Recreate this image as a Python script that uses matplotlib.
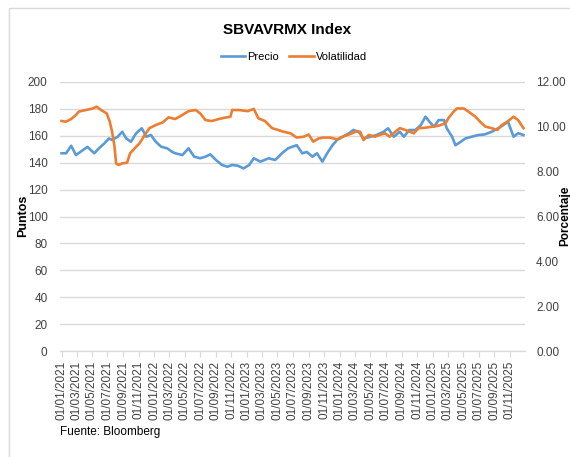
import matplotlib
matplotlib.use("Agg")
import matplotlib.pyplot as plt
import matplotlib.dates as mdates
import pandas as pd
from matplotlib.patches import Rectangle

plt.rcParams['font.family'] = ['Liberation Sans Narrow', 'Liberation Sans', 'DejaVu Sans']

title = "SBVAVRMX Index"
series_names = ["Precio", "Volatilidad"]
ylabel_left = "Puntos"
ylabel_right = "Porcentaje"
source = "Fuente: Bloomberg"

precio_dates = [
    "2021-01-01", "2021-01-19", "2021-02-08", "2021-02-27", "2021-03-16", "2021-04-13",
    "2021-05-10", "2021-05-28", "2021-06-19", "2021-07-07", "2021-07-19", "2021-08-10",
    "2021-08-28", "2021-09-13", "2021-10-01", "2021-10-22", "2021-11-13", "2021-12-01",
    "2021-12-19", "2022-01-07", "2022-01-28", "2022-02-21", "2022-03-13", "2022-03-25",
    "2022-04-22", "2022-05-16", "2022-06-07", "2022-07-01", "2022-07-22", "2022-08-10",
    "2022-09-01", "2022-09-25", "2022-10-16", "2022-11-04", "2022-11-25", "2022-12-19",
    "2023-01-10", "2023-01-28", "2023-02-23", "2023-03-28", "2023-04-22", "2023-05-19",
    "2023-06-12", "2023-07-16", "2023-08-07", "2023-08-25", "2023-09-16", "2023-10-04",
    "2023-10-25", "2023-11-13", "2023-12-04", "2023-12-22", "2024-01-13", "2024-02-07",
    "2024-02-24", "2024-03-16", "2024-04-04", "2024-05-01", "2024-05-25", "2024-06-22",
    "2024-07-10", "2024-08-01", "2024-08-25", "2024-09-10", "2024-10-01", "2024-10-25",
    "2024-11-16", "2024-12-04", "2024-12-25", "2025-01-07", "2025-01-25", "2025-02-15",
    "2025-02-26", "2025-03-19", "2025-04-01", "2025-04-13", "2025-05-10", "2025-06-04",
    "2025-07-01", "2025-07-25", "2025-08-22", "2025-09-16", "2025-10-07", "2025-10-25",
    "2025-11-16", "2025-12-04", "2025-12-25",
]
precio = [
    147.0, 147.0, 152.6, 145.7, 148.0, 151.8,
    147.0, 150.7, 154.4, 158.0, 156.9, 159.3,
    163.0, 158.0, 155.6, 161.9, 165.6, 159.3,
    160.6, 155.6, 151.9, 150.7, 148.0, 147.0,
    145.7, 150.7, 144.5, 143.3, 144.5, 146.2,
    142.0, 138.3, 137.0, 138.3, 137.8, 135.8,
    138.3, 143.3, 140.8, 143.3, 142.0, 147.0,
    150.7, 153.0, 147.0, 148.0, 144.5, 147.0,
    140.8, 147.0, 153.0, 156.9, 159.3, 161.9,
    164.3, 163.0, 158.0, 159.3, 160.6, 163.0,
    165.6, 159.3, 163.0, 159.3, 164.3, 164.3,
    168.0, 174.2, 169.3, 166.8, 171.7, 171.7,
    165.6, 159.3, 153.0, 154.4, 158.0, 159.3,
    160.6, 161.0, 163.0, 165.6, 168.0, 170.5,
    159.3, 161.9, 160.6,
]

vol_dates = [
    "2021-01-01", "2021-01-19", "2021-02-08", "2021-02-27", "2021-03-10", "2021-04-07",
    "2021-05-04", "2021-05-19", "2021-06-07", "2021-06-28", "2021-07-10", "2021-07-19",
    "2021-07-28", "2021-08-04", "2021-08-13", "2021-08-28", "2021-09-16", "2021-09-28",
    "2021-10-16", "2021-11-04", "2021-11-25", "2021-12-13", "2022-01-07", "2022-02-04",
    "2022-02-26", "2022-03-25", "2022-04-22", "2022-05-16", "2022-06-13", "2022-07-01",
    "2022-07-22", "2022-08-16", "2022-09-13", "2022-10-07", "2022-10-28", "2022-11-04",
    "2022-12-01", "2023-01-04", "2023-01-28", "2023-02-15", "2023-03-13", "2023-04-10",
    "2023-05-04", "2023-05-25", "2023-06-22", "2023-07-16", "2023-08-13", "2023-09-01",
    "2023-09-19", "2023-10-10", "2023-10-28", "2023-11-25", "2023-12-22", "2024-01-13",
    "2024-02-07", "2024-03-04", "2024-03-22", "2024-04-04", "2024-04-25", "2024-05-19",
    "2024-06-07", "2024-06-28", "2024-07-16", "2024-08-07", "2024-08-25", "2024-09-16",
    "2024-10-19", "2024-11-07", "2024-12-04", "2025-01-01", "2025-01-25", "2025-02-21",
    "2025-03-04", "2025-03-25", "2025-04-07", "2025-05-04", "2025-05-22", "2025-06-19",
    "2025-07-07", "2025-07-28", "2025-08-22", "2025-09-13", "2025-10-01", "2025-10-22",
    "2025-11-16", "2025-12-04", "2025-12-25",
]
volatilidad = [
    10.26, 10.23, 10.35, 10.53, 10.68, 10.75,
    10.82, 10.90, 10.74, 10.60, 10.23, 9.78,
    9.18, 8.37, 8.30, 8.37, 8.40, 8.82,
    9.04, 9.26, 9.64, 9.94, 10.08, 10.20,
    10.42, 10.35, 10.53, 10.70, 10.75, 10.60,
    10.30, 10.26, 10.35, 10.41, 10.45, 10.75,
    10.75, 10.70, 10.80, 10.38, 10.26, 9.94,
    9.86, 9.78, 9.71, 9.52, 9.56, 9.66,
    9.34, 9.48, 9.52, 9.52, 9.44, 9.56,
    9.66, 9.78, 9.78, 9.41, 9.64, 9.56,
    9.64, 9.71, 9.56, 9.78, 9.94, 9.86,
    9.71, 9.94, 9.96, 10.01, 10.05, 10.16,
    10.38, 10.68, 10.82, 10.82, 10.68, 10.45,
    10.23, 10.01, 9.94, 9.86, 10.08, 10.23,
    10.45, 10.30, 9.94,
]

left_ticks = [0, 20, 40, 60, 80, 100, 120, 140, 160, 180, 200]
right_ticks = [0, 2, 4, 6, 8, 10, 12]
xtick_dates = pd.date_range("2021-01-01", "2025-11-01", freq="2MS")

W, H = 570, 457
fig = plt.figure(figsize=(W / 100, H / 100), dpi=100)

# outer chart border
fig.patches.append(Rectangle((9 / W, -0.05), 1.2, (H - 8) / H + 0.05, transform=fig.transFigure,
                             fill=False, edgecolor="#D9D9D9", linewidth=1.0))

ax = fig.add_axes([60 / W, (H - 351) / H, (525 - 60) / W, (351 - 82) / H])
ax2 = ax.twinx()

c_blue = "#5B9BD5"
c_orange = "#ED7D31"

l1, = ax.plot(pd.to_datetime(precio_dates), precio, color=c_blue, lw=1.9, label=series_names[0], zorder=3)
l2, = ax2.plot(pd.to_datetime(vol_dates), volatilidad, color=c_orange, lw=1.9, label=series_names[1], zorder=3)

ax.set_ylim(0, 200)
ax2.set_ylim(0, 12)
ax.set_yticks(left_ticks)
ax2.set_yticks(right_ticks)
ax2.set_yticklabels([f"{v:.2f}" for v in right_ticks])
ax.set_xlim(pd.Timestamp("2020-12-26"), pd.Timestamp("2025-12-31"))
ax.set_xticks(xtick_dates)
ax.xaxis.set_major_formatter(mdates.DateFormatter("%d/%m/%Y"))

ax.grid(axis="y", color="#D9D9D9", linewidth=1.0)
ax.set_axisbelow(True)
for a in (ax, ax2):
    for s in ("top", "left", "right"):
        a.spines[s].set_visible(False)
    a.spines["bottom"].set_color("#D9D9D9")

ax.tick_params(axis="y", length=0, pad=9, labelsize=8.5, colors="#404040")
ax2.tick_params(axis="y", length=0, pad=8, labelsize=8.5, colors="#404040")
ax.tick_params(axis="x", length=4, color="#D9D9D9", labelsize=8.5, labelcolor="#404040",
               rotation=90, pad=3)

fig.text(23 / W, 1 - 216 / H, ylabel_left, rotation=90, ha="center", va="center",
         fontsize=9, fontweight="bold")
fig.text(565.5 / W, 1 - 216 / H, ylabel_right, rotation=90, ha="center", va="center",
         fontsize=8.5, fontweight="bold")

fig.text(287 / W, 1 - 30 / H, title, ha="center", va="center", fontsize=11, fontweight="bold")
fig.legend([l1, l2], series_names, loc="center", bbox_to_anchor=(294 / W, 1 - 57 / H),
           ncol=2, frameon=False, fontsize=8, handlelength=2.2, handletextpad=0.2,
           columnspacing=0.9)
fig.text(60 / W, 1 - 432 / H, source, ha="left", va="center", fontsize=8.5)

fig.savefig("out.png", dpi=100)
